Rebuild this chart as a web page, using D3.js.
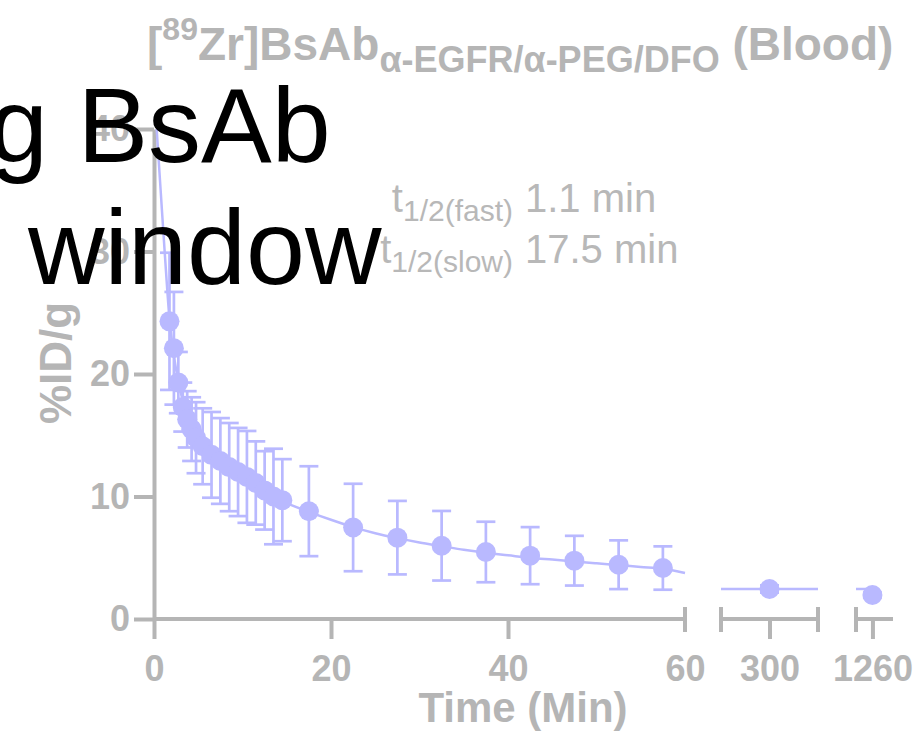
<!doctype html>
<html>
<head>
    <meta charset="utf-8" />
    <title>Blood</title>
    <style>
        body { margin: 0; background: #fff; }
        svg text { font-family: "Liberation Sans", Arial, sans-serif; }
        .axis path, .axis line { stroke: #b5b5b5; }
        .axis text { fill: #b5b5b5; font-weight: bold; font-size: 36px; }
    </style>
</head>
<body>
    <div id="chart"></div>

    <script src="https://cdn.jsdelivr.net/npm/d3@7"></script>
    <script>
        // mean %ID/g over time (min), with SD
        var times = [1.75, 2.25, 2.75, 3.25, 3.75, 4.25, 4.75, 5.5, 6.5, 7.5, 8.5, 9.5, 10.5, 11.5, 12.5, 13.5, 14.5,
                     17.5, 22.5, 27.5, 32.5, 37.5, 42.5, 47.5, 52.5, 57.5, 300, 1260];
        var values = [24.3, 22.1, 19.3, 17.3, 16.3, 15.5, 14.8, 14.1, 13.4, 12.9, 12.4, 12.0, 11.6, 11.1, 10.5, 10.0, 9.7,
                      8.8, 7.47, 6.64, 5.98, 5.47, 5.17, 4.76, 4.43, 4.16, 2.45, 1.96];
        var sds = [5.6, 4.6, 2.5, 2.0, 2.3, 2.6, 2.9, 3.1, 3.5, 3.5, 3.6, 3.6, 3.75, 3.4, 3.2, 3.9, 3.35,
                   3.67, 3.57, 3.0, 2.84, 2.47, 2.33, 2.03, 1.99, 1.77, 0.3, 0.2];

        // two-phase decay fit
        var fitTimes = [0.3, 0.75, 1.25, 1.75, 2.25, 2.75, 3.25, 3.75, 4.5, 5.5, 6.5, 8, 10, 12, 14.5, 17.5, 20, 22.5, 25,
                        27.5, 30, 32.5, 35, 37.5, 40, 42.5, 45, 47.5, 50, 52.5, 55, 57.5, 60,
                        240, 300, 360, 1240, 1260];
        var fitValues = [40, 35, 29.5, 24.5, 21.5, 19.4, 17.8, 16.7, 15.4, 14.2, 13.4, 12.4, 11.4, 10.5, 9.6, 8.75, 8.1, 7.5, 7.0,
                         6.6, 6.25, 5.95, 5.65, 5.4, 5.2, 5.0, 4.85, 4.7, 4.55, 4.4, 4.25, 4.1, 3.75,
                         2.45, 2.45, 2.45, 2.45, 2.45];

        var yTicks = [0, 10, 20, 30, 40];
        var segTicks = [[0, 20, 40, 60], [300], [1260]];
        var segDomains = [[0, 60], [240, 360], [1240, 1285]];
        var segRanges = [[154, 685], [721, 818], [856, 893]];

        var w = 916, h = 748;
        var grey = "#b5b5b5", blue = "#b9b9ff";

        var svg = d3.select("#chart").append("svg")
            .attr("width", w)
            .attr("height", h);

        var y = d3.scaleLinear().domain([0, 40]).range([619, 129]);

        var segs = segDomains.map(function(d, i) {
            return d3.scaleLinear().domain(d).range(segRanges[i]);
        });

        function segOf(t) {
            return t <= 60 ? 0 : (t <= 360 ? 1 : 2);
        }
        function xPos(t) {
            return segs[segOf(t)](t);
        }

        // y axis
        var yAxis = svg.append("g")
            .attr("class", "axis")
            .attr("transform", "translate(154,0)")
            .call(d3.axisLeft(y).tickValues(yTicks).tickSize(20).tickSizeOuter(0).tickPadding(4));
        yAxis.selectAll("path, line").attr("stroke-width", 4);

        // x axis, three pieces
        segs.forEach(function(s, i) {
            var g = svg.append("g")
                .attr("class", "axis")
                .attr("transform", "translate(0,619)")
                .call(d3.axisBottom(s).tickValues(segTicks[i]).tickSize(20).tickSizeOuter(0).tickPadding(16)
                    .tickFormat(d3.format("d")));
            g.selectAll("path, line").attr("stroke-width", 4);
            g.select(".domain").attr("d", "M" + segRanges[i][0] + ",0H" + segRanges[i][1]);
            // break caps
            var caps = i === 0 ? [segRanges[i][1]] : (i === 1 ? segRanges[i] : [segRanges[i][0]]);
            g.selectAll(".cap").data(caps).enter().append("line")
                .attr("class", "cap")
                .attr("x1", function(d) { return d; })
                .attr("x2", function(d) { return d; })
                .attr("y1", -12)
                .attr("y2", 13)
                .attr("stroke", grey)
                .attr("stroke-width", 4);
            // the 60 tick is drawn as a cap only
            g.selectAll(".tick").filter(function(d) { return d === 60; }).select("line").remove();
        });

        // fit curve per segment
        var fit = fitTimes.map(function(t, i) { return { t: t, v: fitValues[i] }; });
        var line = d3.line()
            .x(function(d) { return xPos(d.t); })
            .y(function(d) { return y(d.v); })
            .curve(d3.curveMonotoneX);

        [0, 1, 2].forEach(function(k) {
            svg.append("path")
                .datum(fit.filter(function(d) { return segOf(d.t) === k; }))
                .attr("d", line)
                .attr("fill", "none")
                .attr("stroke", blue)
                .attr("stroke-width", 2.5);
        });

        var pts = times.map(function(t, i) { return { t: t, v: values[i], sd: sds[i] }; });

        // error bars
        var eb = svg.append("g").attr("stroke", blue).attr("stroke-width", 2.7);
        pts.forEach(function(d) {
            var x = xPos(d.t), y1 = y(d.v + d.sd), y2 = y(d.v - d.sd);
            eb.append("line").attr("x1", x).attr("x2", x).attr("y1", y1).attr("y2", y2);
            eb.append("line").attr("x1", x - 9.5).attr("x2", x + 9.5).attr("y1", y1).attr("y2", y1);
            eb.append("line").attr("x1", x - 9.5).attr("x2", x + 9.5).attr("y1", y2).attr("y2", y2);
        });

        svg.selectAll("circle").data(pts).enter().append("circle")
            .attr("cx", function(d) { return xPos(d.t); })
            .attr("cy", function(d) { return y(d.v); })
            .attr("r", 10)
            .attr("fill", blue);

        // axis titles
        svg.append("text")
            .attr("x", 523)
            .attr("y", 722)
            .attr("text-anchor", "middle")
            .attr("font-size", 42)
            .attr("font-weight", "bold")
            .attr("fill", grey)
            .text("Time (Min)");

        svg.append("text")
            .attr("transform", "translate(71,363) rotate(-90)")
            .attr("text-anchor", "middle")
            .attr("font-size", 44)
            .attr("font-weight", "bold")
            .attr("fill", grey)
            .text("%ID/g");

        // title
        var title = svg.append("text")
            .attr("x", 147)
            .attr("y", 60)
            .attr("font-size", 46)
            .attr("font-weight", "bold")
            .attr("fill", grey);
        title.append("tspan").text("[");
        title.append("tspan").attr("font-size", 32).attr("dy", -20).text("89");
        title.append("tspan").attr("dy", 20).text("Zr]BsAb");
        title.append("tspan").attr("font-size", 36).attr("dy", 12).text("\u03b1-EGFR/\u03b1-PEG/DFO");
        title.append("tspan").attr("dy", -12).text(" (Blood)");

        // half-lives
        var halfLives = [["fast", "1.1 min"], ["slow", "17.5 min"]];
        halfLives.forEach(function(d, i) {
            var by = 212 + i * 51;
            var lab = svg.append("text")
                .attr("x", 513)
                .attr("y", by)
                .attr("text-anchor", "end")
                .attr("font-size", 40)
                .attr("fill", "#b8b8b8");
            lab.append("tspan").text("t");
            lab.append("tspan").attr("font-size", 30).attr("dy", 9).text("1/2(" + d[0] + ")");
            svg.append("text")
                .attr("x", 525)
                .attr("y", by)
                .attr("font-size", 40)
                .attr("fill", "#b8b8b8")
                .text(d[1]);
        });

        // overlay caption, partly outside the window
        var cap = svg.append("text")
            .attr("font-size", 106)
            .attr("fill", "#000");
        cap.append("tspan").attr("x", -11).attr("y", 162).text("g BsAb");
        cap.append("tspan").attr("x", 28).attr("y", 284).text("window");
    </script>
</body>
</html>
